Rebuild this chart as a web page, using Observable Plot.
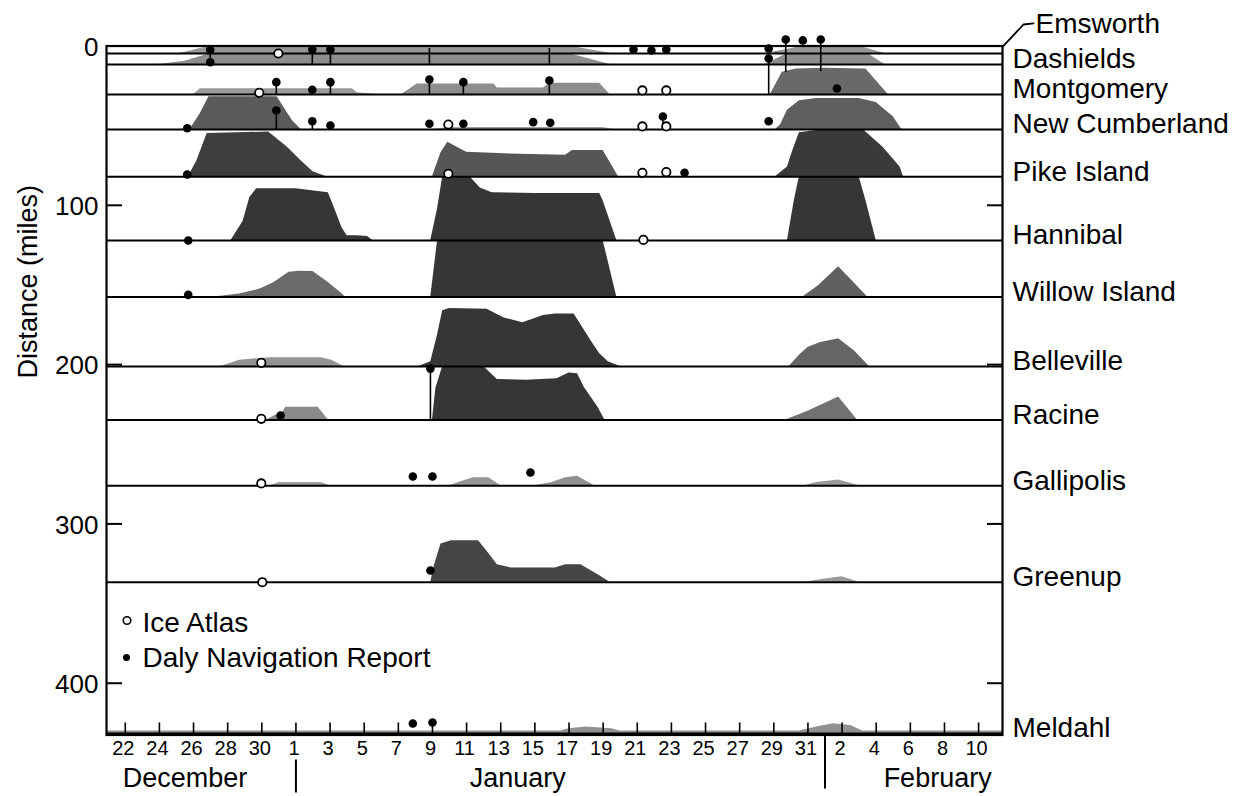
<!DOCTYPE html>
<html><head><meta charset="utf-8">
<script src="https://cdn.jsdelivr.net/npm/d3@7"></script>
<script src="https://cdn.jsdelivr.net/npm/@observablehq/plot@0.6"></script>
<style>
html,body{margin:0;padding:0;background:#fff;}
#chart svg{display:block;}
</style></head><body><div id="chart"></div>
<script>
// x = days after January 1 (Dec 22 = -10, Feb 1 = 31); y = river miles
const xTickDays = [-10,-8,-6,-4,-2,0,2,4,6,8,10,12,14,16,18,20,22,24,26,28,30,32,34,36,38,40];
const xTickLabels = ["22","24","26","28","30","1","3","5","7","9","11","13","15","17","19","21","23","25","27","29","31","2","4","6","8","10"];
const yTicks = [0,100,200,300,400];
const monthNames = ["December","January","February"];
const monthLabelDays = [-6.5, 13, 37.6];
const monthStartDays = [0, 31];

const damNames = ["Emsworth","Dashields","Montgomery","New Cumberland","Pike Island","Hannibal","Willow Island","Belleville","Racine","Gallipolis","Greenup","Meldahl"];
const damMiles = [4.7, 11.6, 30.4, 52.4, 82, 122.1, 157.6, 201.2, 234.8, 276, 336.6, 431.5];

// ice extent upstream of each dam (miles) : [day, extent]
const emsworthIce = [
  [[-6.8,0],[-5,4.7],[16,4.7],[18.5,0]],
  [[27.5,0],[29,3],[29.8,4.7],[33,4.7],[34.5,0]]
];
const dashieldsIce = [
  [[-8,0],[-6.5,2],[-5,6.9],[16,6.9],[18.4,0]],
  [[27.5,0],[28.8,6.9],[33.5,6.9],[34.5,0]]
];
const montgomeryIce = [
  [[-6,0],[-5.6,3.5],[3.3,3.5],[3.6,1],[4.8,0]],
  [[6.2,0],[7.1,6.5],[11.6,6.5],[11.8,4],[14.5,4],[14.9,7],[17.8,7],[18.4,0]],
  [[27.8,0],[28.5,14],[29.3,16],[31,16.5],[33.4,16],[34.7,0]]
];
const newCumberlandIce = [
  [[-6.2,0],[-5.6,10],[-5.1,20.5],[-1.1,20.5],[-0.6,12],[-0.2,5.5],[0.3,0]],
  [[8,0],[9,1.2],[18,1.2],[18.6,0]],
  [[28.1,0],[28.4,3],[28.8,12],[29.5,18],[30.5,19.5],[33,19.5],[34,17],[35,8],[35.5,0]]
];
const pikeIslandIce = [
  [[-6.3,0],[-5.8,10],[-5.2,27],[-1.6,28],[-0.5,18.5],[0.3,10],[1,3],[1.8,0]],
  [[8,0],[8.5,15],[8.9,21.6],[10,15.3],[13.1,14],[15.8,13.5],[16.2,16.4],[18,16.4],[18.9,0]],
  [[28.1,0],[28.8,6],[29.1,16],[29.5,27.5],[30.5,29],[33.3,29],[34.4,18.5],[35.4,6],[35.6,0]]
];
const hannibalIce = [
  [[-3.8,0],[-3.1,12],[-2.7,27],[-2.3,32.5],[0,32.5],[1.9,30],[2.2,22],[2.7,8],[3,3],[3.6,3],[4.2,2.5],[4.5,0]],
  [[7.9,0],[8.3,20],[8.6,40],[10.2,40],[10.8,33],[11.5,30],[14,29.5],[17.8,29.5],[18,25],[18.8,0]],
  [[28.8,0],[29.2,25],[29.5,40],[33,40],[33.4,25],[34,0]]
];
const willowIslandIce = [
  [[-4.8,0],[-3.3,2],[-2.1,5],[-1.3,9],[-0.4,15.5],[0.2,16.2],[1,16],[1.8,10],[2.6,3],[2.9,0]],
  [[7.9,0],[8.3,35.5],[18,35.5],[18.8,0]],
  [[29.7,0],[30.6,7],[31.8,19],[33.5,0]]
];
const bellevilleIce = [
  [[-4.4,0],[-3.3,4],[-1.5,5.5],[1.5,5.5],[2.1,4],[2.8,0]],
  [[7.2,0],[7.9,3],[8.3,20],[8.6,35],[9,36.5],[11.2,36],[12.2,30.5],[13.3,27.5],[14.5,32],[15.2,33],[16.3,33],[17.3,16],[17.8,8],[18.3,3],[19,0]],
  [[28.9,0],[29.5,7],[30,12],[30.7,15],[31.8,17.5],[32.7,10],[33.6,0]]
];
const racineIce = [
  [[-1.7,0],[-1.2,3],[-0.8,4],[-0.6,8],[1.3,8],[1.9,0]],
  [[8,0],[8.2,20],[8.6,33.6],[11,33.6],[11.8,25.5],[13.5,25],[15.3,26],[16,29.5],[16.5,29],[16.9,20.5],[17.7,8],[18.1,0]],
  [[28.7,0],[30,5.5],[31.8,14.5],[32.9,0]]
];
const gallipolisIce = [
  [[-1.5,0],[-1,2],[1.5,2],[2,0]],
  [[9,0],[9.8,3],[10.4,5],[11.3,5],[12,0]],
  [[14,0],[15,2],[15.8,5],[16.5,6],[17.5,0]],
  [[29.8,0],[30.5,2],[31.8,3.5],[33,0]]
];
const greenupIce = [
  [[7.9,0],[8.1,10],[8.5,24],[9.1,26],[10.7,26],[11.3,18],[11.8,11],[12.6,9],[15.2,9],[15.8,11],[16.7,11],[17.8,4],[18.4,0]],
  [[29.8,0],[31,2],[32,3.5],[33,0]]
];
const meldahlIce = [
  [[-11.1,1.5],[15.5,1.5],[16,3],[17,4],[18.5,3],[19,1.5],[29.5,1.5],[30.5,4],[31.5,6],[32.5,5],[33.2,1.5],[41.4,1.5]]
];

// Ice Atlas observations (open circles): [day, mile]
const iceAtlas = [
  [-1.03,4.7],[-2.15,29.4],[20.3,27.9],[21.7,27.9],
  [8.93,49.3],[20.3,50.5],[21.7,50.5],
  [8.93,80.2],[20.3,79.6],[21.7,79.2],
  [20.36,121.7],[-2.03,198.9],[-2.03,234.0],[-2.03,274.6],[-1.97,336.6]
];
// Daily navigation reports (filled dots): [day, mile]
const navReports = [
  [-5.02,2.4],[-5.02,10.2],[0.96,2.2],[2.02,2.2],
  [19.78,2.2],[20.83,2.8],[21.7,2.2],
  [27.7,1.6],[28.7,-4.1],[29.7,-3.5],[30.75,-4.1],[27.7,7.8],
  [-1.15,22.7],[0.96,27.5],[2.02,22.7],[7.82,21.0],[9.81,22.7],[14.85,21.7],[31.7,26.7],
  [-6.37,51.6],[-1.15,40.5],[0.96,47.2],[2.02,49.9],[7.82,48.8],[9.81,48.8],[13.9,47.8],[14.9,48.2],[21.5,44.3],[27.7,47.2],
  [-6.37,80.7],[22.77,79.6],
  [-6.31,122.1],[-6.31,156.2],[7.88,202.5],[-0.9,231.9],
  [6.85,270.2],[8.0,270.2],[13.74,267.7],
  [7.88,329.2],[6.85,425.3],[8.0,424.7]
];
// report stems: [day, mile top, mile bottom]
const reportStems = [
  [-5.02,2.4,10.2],[0.96,2.2,11.6],[2.02,2.2,11.6],[7.82,1.5,11.6],[14.85,1.5,11.6],
  [-1.15,22.7,30.4],[2.02,22.7,30.4],[7.82,21.0,30.4],[9.81,22.7,30.4],[14.85,21.7,30.4],
  [-1.15,40.5,52.4],[0.96,47.2,52.4],[21.5,44.3,50.5],
  [27.7,7.8,30.4],[28.7,-4.1,16.6],[30.75,-4.1,16],
  [7.88,202.5,234.8]
];
const legendLabels = ["Ice Atlas","Daly Navigation Report"];

// ---------- layout ----------
const W = 1243, H = 796;
const mL = 106, mR = 241, mT = 45.5, mB = 61.5;
const xMin = -11.1, xMax = 41.4, yMax = 432.5;
const frameW = W - mL - mR, frameH = H - mT - mB;
const pxDay = frameW / (xMax - xMin), pxMile = frameH / yMax;

const iceByDam = [emsworthIce,dashieldsIce,montgomeryIce,newCumberlandIce,pikeIslandIce,hannibalIce,willowIslandIce,bellevilleIce,racineIce,gallipolisIce,greenupIce,meldahlIce];
const shade = d3.scaleLinear().domain([2, 30]).range(["#a0a0a0", "#363636"]).clamp(true);
const areaRows = [];
iceByDam.forEach((episodes, i) => episodes.forEach((ep, j) => {
  const maxExt = d3.max(ep, p => p[1]);
  ep.forEach(([day, ext]) => areaRows.push({band: i + "-" + j, day, base: damMiles[i], top: damMiles[i] - ext, fill: shade(maxExt)}));
}));

const dams = damNames.map((name, i) => ({name, mile: damMiles[i]}));
const font = "'Liberation Sans', Arial, Helvetica, sans-serif";

const chart = Plot.plot({
  width: W, height: H,
  marginLeft: mL, marginRight: mR, marginTop: mT, marginBottom: mB,
  x: {domain: [xMin, xMax], axis: null},
  y: {domain: [0, yMax], reverse: true, axis: null},
  color: {type: "identity"},
  style: {fontFamily: font, background: "white", color: "black"},
  marks: [
    Plot.areaY(areaRows, {x: "day", y1: "base", y2: "top", z: "band", fill: "fill", curve: "linear"}),
    Plot.ruleY(damMiles, {stroke: "black", strokeWidth: 2}),
    Plot.ruleX(reportStems, {x: d => d[0], y1: d => d[1], y2: d => d[2], stroke: "black", strokeWidth: 1.6}),
    Plot.frame({stroke: "black", strokeWidth: 2.2}),
    // inward ticks
    Plot.ruleY(yTicks.slice(1), {x1: xMin, x2: xMin + 16 / pxDay, stroke: "black", strokeWidth: 2}),
    Plot.ruleY(yTicks.slice(1), {x1: xMax - 15 / pxDay, x2: xMax, stroke: "black", strokeWidth: 2}),
    Plot.ruleX(xTickDays, {y1: yMax, y2: yMax - 12 / pxMile, stroke: "black", strokeWidth: 1.6}),
    // tick labels
    Plot.text(xTickDays, {x: d => d, y: yMax, text: (d, i) => xTickLabels[i], dx: -2, dy: 14, fontSize: 20, fill: "black"}),
    Plot.text(yTicks, {x: xMin, y: d => d, text: d => String(d), dx: -8, dy: 1.5, textAnchor: "end", fontSize: 26, fill: "black"}),
    Plot.text(["Distance (miles)"], {frameAnchor: "left", dx: -78, dy: -12, rotate: -90, fontSize: 27, fill: "black"}),
    // months
    Plot.text(monthNames, {x: (d, i) => monthLabelDays[i], y: yMax, text: d => d, dy: 43, fontSize: 27, fill: "black"}),
    Plot.ruleX([monthStartDays[0]], {y1: yMax + 25 / pxMile, y2: yMax + 58 / pxMile, stroke: "black", strokeWidth: 2}),
    Plot.ruleX([monthStartDays[1]], {y1: yMax, y2: yMax + 54 / pxMile, stroke: "black", strokeWidth: 2}),
    // dam labels
    Plot.text(dams.slice(1), {x: xMax, y: "mile", text: "name", dx: 10, dy: -5, textAnchor: "start", fontSize: 28, fill: "black"}),
    Plot.text(dams.slice(0, 1), {x: xMax, y: 0, text: "name", dx: 33, dy: -22, textAnchor: "start", fontSize: 28, fill: "black"}),
    Plot.line([[xMax, 0.6], [xMax + 21 / pxDay, -13.5], [xMax + 31 / pxDay, -14.2]], {x: d => d[0], y: d => d[1], stroke: "black", strokeWidth: 1.8}),
    // observations
    Plot.dot(navReports, {x: d => d[0], y: d => d[1], r: 4.3, fill: "black", stroke: "none"}),
    Plot.dot(iceAtlas, {x: d => d[0], y: d => d[1], r: 4.2, fill: "white", stroke: "black", strokeWidth: 1.8}),
    // legend
    Plot.dot([legendLabels[0]], {frameAnchor: "top-left", dx: 20.5, dy: 574.5, r: 3.8, fill: "white", stroke: "black", strokeWidth: 1.6}),
    Plot.dot([legendLabels[1]], {frameAnchor: "top-left", dx: 20, dy: 611.5, r: 3.5, fill: "black", stroke: "none"}),
    Plot.text([legendLabels[0]], {frameAnchor: "top-left", text: d => d, dx: 36, dy: 577, lineAnchor: "middle", textAnchor: "start", fontSize: 28, fill: "black"}),
    Plot.text([legendLabels[1]], {frameAnchor: "top-left", text: d => d, dx: 36, dy: 612, lineAnchor: "middle", textAnchor: "start", fontSize: 28, fill: "black"})
  ]
});
document.getElementById("chart").appendChild(chart);
</script>
</body></html>
